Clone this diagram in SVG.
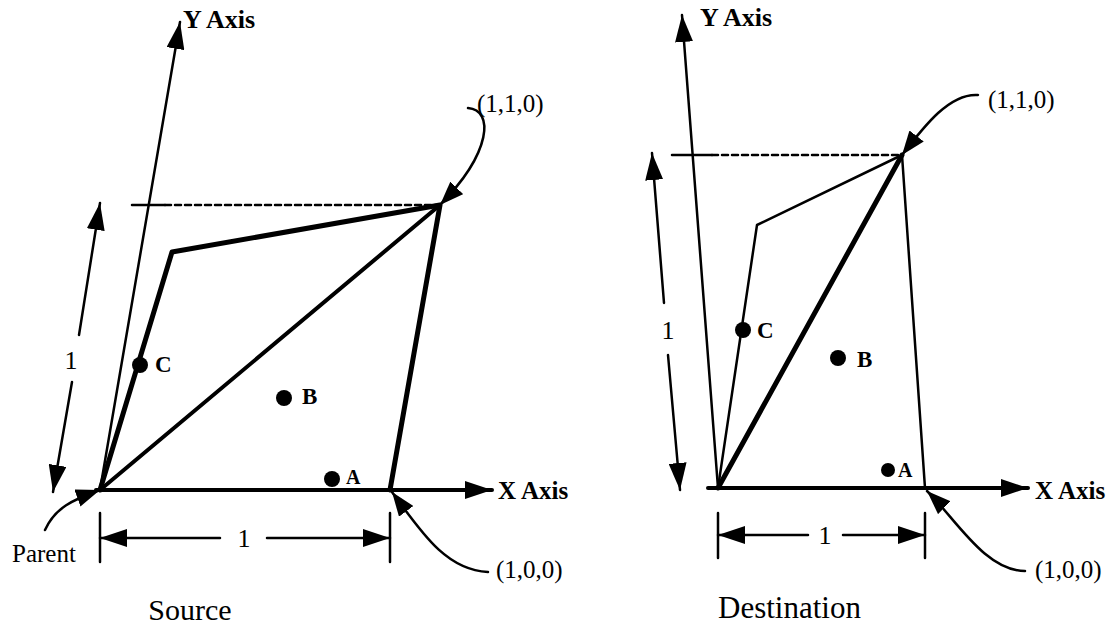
<svg xmlns="http://www.w3.org/2000/svg" width="1120" height="626" viewBox="0 0 1120 626">
<style>
.t{font-family:"Liberation Serif","Times New Roman",serif;fill:#000}
.b{font-weight:bold}
.ln{fill:none;stroke:#000;stroke-linecap:round;stroke-linejoin:round}
.thin{stroke-width:2.5}
.mid{stroke-width:4}
.thick{stroke-width:5}
.dash{stroke-dasharray:6 4}
</style>
<defs>
<marker id="ah" markerUnits="userSpaceOnUse" markerWidth="28" markerHeight="18" refX="27" refY="9" orient="auto">
<path d="M0,0 L27,9 L0,18 z" fill="#000"/>
</marker>
<marker id="ahs" markerUnits="userSpaceOnUse" markerWidth="25" markerHeight="18" refX="24" refY="9" orient="auto">
<path d="M0,0 L24,9 L0,18 z" fill="#000"/>
</marker>
</defs>
<rect width="1120" height="626" fill="#fff"/>

<g id="source">
<g id="src-axes">
<path class="ln thin" d="M100,490 L180,22" marker-end="url(#ah)"/>
<path class="ln mid" d="M96,490 L492,490" marker-end="url(#ah)"/>
<text class="t b" x="183" y="28" font-size="26">Y Axis</text>
<text class="t b" x="498" y="499" font-size="25">X Axis</text>
</g>
<g id="src-shape">
<path class="ln thick" d="M100,490 L172,252 L440,205 L390,490"/>
<path class="ln mid" d="M100,490 L440,205"/>
</g>
<g id="src-guides">
<path class="ln thin" d="M132,205 L165,205"/>
<path class="ln thin dash" d="M165,205 L440,205"/>
<path class="ln thin" d="M79,335 L100,203" marker-end="url(#ah)"/>
<path class="ln thin" d="M72,382 L53,492" marker-end="url(#ah)"/>
<text class="t" x="71" y="369" font-size="26" text-anchor="middle">1</text>
<path class="ln thin" d="M100,513 L100,562 M390,513 L390,562"/>
<path class="ln thin" d="M220,538 L100,538" marker-end="url(#ah)"/>
<path class="ln thin" d="M267,538 L390,538" marker-end="url(#ah)"/>
<text class="t" x="244" y="547" font-size="26" text-anchor="middle">1</text>
</g>
<g id="src-C"><circle cx="140" cy="365" r="8"/><text class="t b" x="155" y="372" font-size="23">C</text></g>
<g id="src-B"><circle cx="284" cy="398" r="8"/><text class="t b" x="302" y="404" font-size="23">B</text></g>
<g id="src-A"><circle cx="332" cy="479" r="8"/><text class="t b" x="346" y="484" font-size="20">A</text></g>
<g id="src-callouts">
<path class="ln thin" d="M45,530 C55,508 72,500 100,490" marker-end="url(#ahs)"/>
<text class="t" x="12" y="562" font-size="25">Parent</text>
<path class="ln thin" d="M488,572 C445,570 420,530 392,492" marker-end="url(#ahs)"/>
<text class="t" x="496" y="578" font-size="25">(1,0,0)</text>
<path class="ln thin" d="M468,108 C494,110 492,152 440,205" marker-end="url(#ahs)"/>
<text class="t" x="477" y="112" font-size="25">(1,1,0)</text>
</g>
<text class="t" x="190" y="620" font-size="30" text-anchor="middle">Source</text>
</g>

<g id="destination">
<g id="dst-axes">
<path class="ln thin" d="M718,488 L682,15" marker-end="url(#ah)"/>
<path class="ln mid" d="M708,488 L1028,488" marker-end="url(#ah)"/>
<text class="t b" x="700" y="26" font-size="26">Y Axis</text>
<text class="t b" x="1035" y="499" font-size="25">X Axis</text>
</g>
<g id="dst-shape">
<path class="ln thin" d="M718,488 L757,225 L902,155 L925,488"/>
<path class="ln thick" d="M718,488 L902,155"/>
</g>
<g id="dst-guides">
<path class="ln thin" d="M672,155 L712,155"/>
<path class="ln thin dash" d="M712,155 L902,155"/>
<path class="ln thin" d="M664,303 L652,153" marker-end="url(#ah)"/>
<path class="ln thin" d="M668,355 L680,490" marker-end="url(#ah)"/>
<text class="t" x="668" y="339" font-size="26" text-anchor="middle">1</text>
<path class="ln thin" d="M718,513 L718,558 M925,513 L925,558"/>
<path class="ln thin" d="M808,535 L718,535" marker-end="url(#ah)"/>
<path class="ln thin" d="M843,535 L925,535" marker-end="url(#ah)"/>
<text class="t" x="825" y="544" font-size="26" text-anchor="middle">1</text>
</g>
<g id="dst-C"><circle cx="743" cy="330" r="8"/><text class="t b" x="757" y="338" font-size="23">C</text></g>
<g id="dst-B"><circle cx="838" cy="358" r="8"/><text class="t b" x="857" y="367" font-size="23">B</text></g>
<g id="dst-A"><circle cx="888" cy="470" r="7"/><text class="t b" x="898" y="477" font-size="20">A</text></g>
<g id="dst-callouts">
<path class="ln thin" d="M1025,571 C985,571 955,518 927,491" marker-end="url(#ahs)"/>
<text class="t" x="1035" y="578" font-size="25">(1,0,0)</text>
<path class="ln thin" d="M978,95 C950,93 925,125 902,155" marker-end="url(#ahs)"/>
<text class="t" x="988" y="108" font-size="25">(1,1,0)</text>
</g>
<text class="t" x="718" y="618" font-size="31">Destination</text>
</g>
</svg>
